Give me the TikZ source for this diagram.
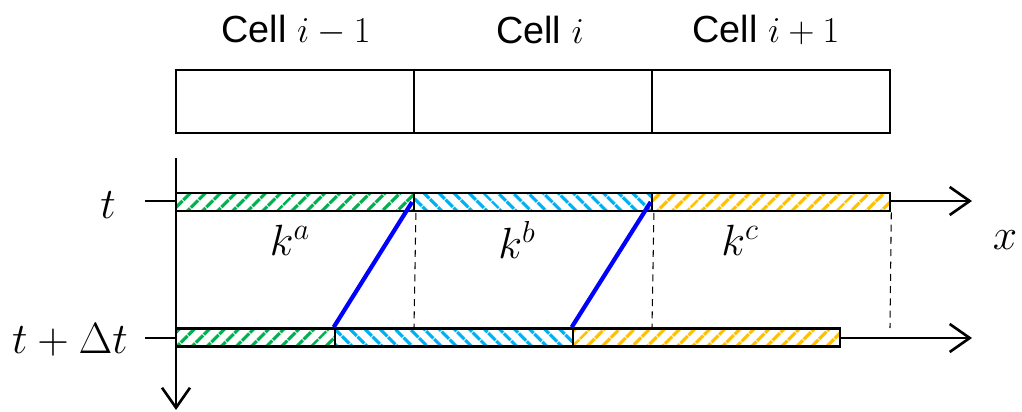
\documentclass[tikz,border=0pt]{standalone}
\usepackage{fontspec}
\setmainfont{Liberation Sans}
\usepackage{amsmath}
\usetikzlibrary{arrows.meta,patterns.meta,positioning}
\definecolor{hatchGreen}{RGB}{0,176,80}
\definecolor{hatchBlue}{RGB}{0,176,240}
\definecolor{hatchYellow}{RGB}{255,192,0}
\definecolor{fluxBlue}{RGB}{0,0,255}

\begin{document}
\begin{tikzpicture}[
    x=0.02cm, y=-0.02cm,
    cellbox/.style={rectangle, draw, line width=1.5pt, minimum width=4.76cm, minimum height=1.26cm, inner sep=0pt},
    label/.style={font=\fontsize{21.5}{25}\selectfont},
    mathlbl/.style={font=\fontsize{26}{30}\selectfont},
    timelbl/.style={font=\fontsize{24}{28}\selectfont},
    axis/.style={line width=1.5pt, -{Straight Barb[length=4mm, width=5.6mm, line width=1.5pt]}},
    bar/.style={rectangle, draw, line width=1.5pt, minimum height=0.36cm, inner sep=0pt, preaction={fill=white}},
    neHatch/.style={pattern={Lines[angle=45, distance=6.5pt, line width=2.2pt]}},
    nwHatch/.style={pattern={Lines[angle=-45, distance=6.5pt, line width=2.2pt]}},
    flux/.style={draw=fluxBlue, line width=2.4pt},
    guide/.style={line width=0.6pt, dash pattern=on 4pt off 3pt}
  ]
  \useasboundingbox (0,0) rectangle (1022,412);

  % cells
  \node[cellbox] (cellA) at (295,101.5) {};
  \node[cellbox] (cellB) at (533,101.5) {};
  \node[cellbox] (cellC) at (771,101.5) {};
  \node[label] (nameA) at (296,30) {Cell $i-1$};
  \node[label] (nameB) at (540,30) {Cell $i$};
  \node[label] (nameC) at (766,30) {Cell $i+1$};

  % axes
  \coordinate (vTop) at (176,158);
  \coordinate (vBot) at (176,410);
  \coordinate (tL) at (145,201);
  \coordinate (tR) at (972,201);
  \coordinate (dtL) at (145,338);
  \coordinate (dtR) at (972,338);
  \draw[axis] (vTop) -- (vBot);
  \draw[axis] (tL) -- (tR);
  \draw[axis] (dtL) -- (dtR);

  % bars at t
  \node[bar, minimum width=4.76cm, neHatch, pattern color=hatchGreen] (gA) at (295,202) {};
  \node[bar, minimum width=4.76cm, nwHatch, pattern color=hatchBlue] (gB) at (533,202) {};
  \node[bar, minimum width=4.76cm, neHatch, pattern color=hatchYellow] (gC) at (771,202) {};

  % bars at t + dt
  \node[bar, minimum width=3.18cm, neHatch, pattern color=hatchGreen] (hA) at (255.5,337.5) {};
  \node[bar, minimum width=4.76cm, nwHatch, pattern color=hatchBlue] (hB) at (454,337.5) {};
  \node[bar, minimum width=5.34cm, neHatch, pattern color=hatchYellow] (hC) at (706.5,337.5) {};

  % guides
  \coordinate (gdA) at (414,328);
  \coordinate (gdB) at (652,328);
  \coordinate (gdC) at (890,328);
  \draw[guide] (gA.south east) -- (gdA);
  \draw[guide] (gB.south east) -- (gdB);
  \draw[guide] (gC.south east) -- (gdC);

  % characteristics
  \draw[flux] (gB.west) -- (hB.north west);
  \draw[flux] (gC.west) -- (hC.north west);

  % labels
  \node[mathlbl] (kA) at (290,240) {$k^{a}$};
  \node[mathlbl] (kB) at (517,240) {$k^{b}$};
  \node[mathlbl] (kC) at (740,240) {$k^{c}$};
  \node[mathlbl] (xLbl) at (1005,240) {$x$};
  \node[timelbl] (tLbl) at (108,205) {$t$};
  \node[timelbl] (dtLbl) at (70,340) {$t+\Delta t$};
\end{tikzpicture}
\end{document}
